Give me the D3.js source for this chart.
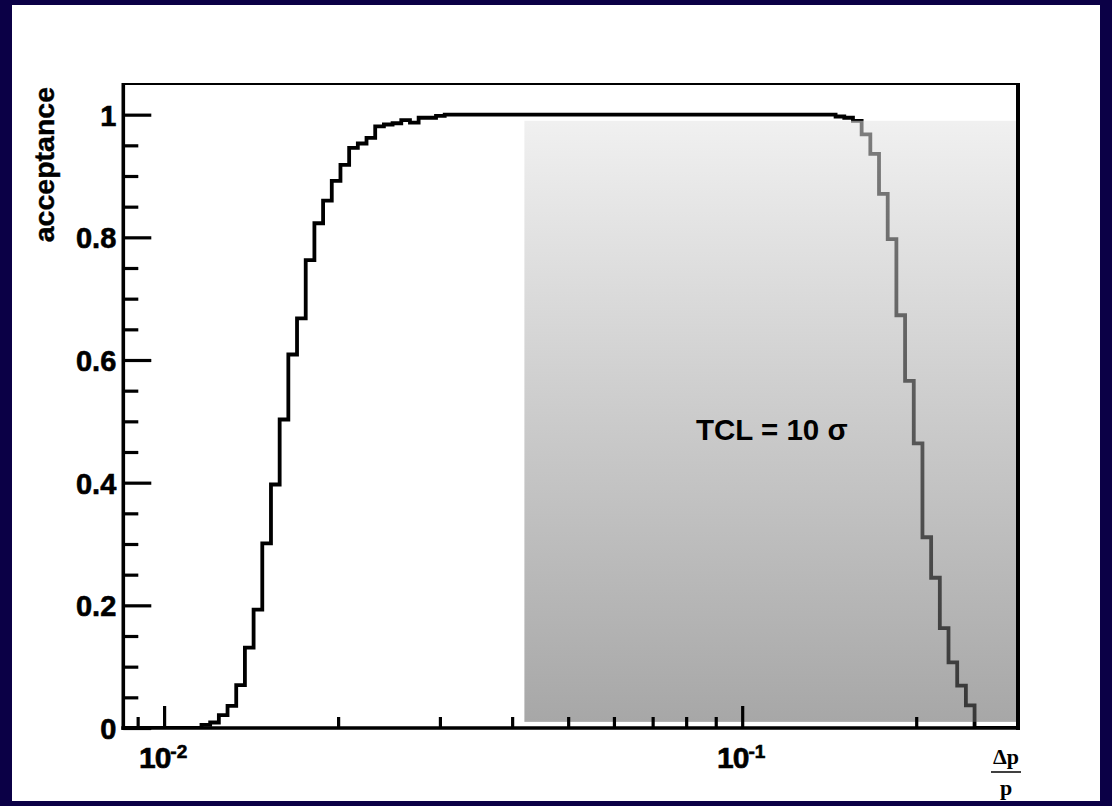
<!DOCTYPE html>
<html>
<head>
<meta charset="utf-8">
<script src="https://cdn.jsdelivr.net/npm/d3@7"></script>
<style>
  html, body { margin: 0; padding: 0; background: #0b0046; }
  svg { display: block; }
</style>
</head>
<body>
<svg id="chart" width="1112" height="806"></svg>
<script>
// ---------------- data ----------------
const xDomain = [0.0085, 0.3];          // delta p / p (log axis)
const yDomain = [0, 1.05];              // acceptance
const nBins = 103;                      // log-uniform bins over xDomain
const acceptance = [
  0, 0, 0, 0, 0, 0, 0, 0, 0,
  0.005, 0.009, 0.021, 0.036, 0.070, 0.131, 0.193, 0.301, 0.397, 0.503,
  0.609, 0.668, 0.763, 0.823, 0.860, 0.892, 0.918, 0.946, 0.953, 0.962,
  0.981, 0.984, 0.986, 0.991, 0.987, 0.995, 0.995, 0.998,
  1, 1, 1, 1, 1, 1, 1, 1, 1, 1,
  1, 1, 1, 1, 1, 1, 1, 1, 1, 1,
  1, 1, 1, 1, 1, 1, 1, 1, 1, 1,
  1, 1, 1, 1, 1, 1, 1, 1, 1, 1,
  1, 1, 1, 1, 1,
  0.997, 0.995, 0.990, 0.968, 0.936, 0.871, 0.797, 0.673, 0.566, 0.464,
  0.311, 0.245, 0.163, 0.107, 0.069, 0.037,
  0, 0, 0, 0, 0
];
const yMajorTicks = [0, 0.2, 0.4, 0.6, 0.8, 1];
const yTickLabels = ["0", "0.2", "0.4", "0.6", "0.8", "1"];
const yMinorTicks = [0.05, 0.1, 0.15, 0.25, 0.3, 0.35, 0.45, 0.5, 0.55, 0.65, 0.7, 0.75, 0.85, 0.9, 0.95];
const xMajorTicks = [0.01, 0.1];
const xTickBase = ["10", "10"];
const xTickExp = ["-2", "-1"];
const xMinorTicks = [0.009, 0.02, 0.03, 0.04, 0.05, 0.06, 0.07, 0.08, 0.09, 0.2];
const shadeX = [0.042, 0.3];
const shadeY = [0.01, 0.99];
const yTitle = "acceptance";
const annotation = "TCL = 10 σ";
const annotationPos = [0.0832, 0.47];   // data coords (x, y) of text start / baseline

// ---------------- layout ----------------
const W = 1112, H = 806;
const plot = { left: 123.3, right: 1018, top: 84, bottom: 728 };

const svg = d3.select("#chart");

// slide background + white panel
svg.append("rect").attr("width", W).attr("height", H).attr("fill", "#0b0046");
svg.append("rect").attr("x", 12).attr("y", 5).attr("width", W - 24).attr("height", H - 10).attr("fill", "#ffffff");

const x = d3.scaleLog().domain(xDomain).range([plot.left, plot.right]);
const y = d3.scaleLinear().domain(yDomain).range([plot.bottom, plot.top]);

// histogram bins (log-uniform edges)
const lx0 = Math.log10(xDomain[0]), lx1 = Math.log10(xDomain[1]);
const edges = d3.range(nBins + 1).map(k => Math.pow(10, lx0 + (lx1 - lx0) * k / nBins));
const pts = acceptance.map((v, k) => [edges[k], v]);
pts.push([edges[nBins], acceptance[nBins - 1]]);

const line = d3.line()
  .x(d => x(d[0]))
  .y(d => y(d[1]))
  .curve(d3.curveStepAfter);

svg.append("clipPath").attr("id", "plotclip")
  .append("rect").attr("x", plot.left).attr("y", plot.top)
  .attr("width", plot.right - plot.left).attr("height", plot.bottom - plot.top);

svg.append("path")
  .datum(pts)
  .attr("d", line)
  .attr("fill", "none")
  .attr("stroke", "#000")
  .attr("stroke-width", 3.8)
  .attr("stroke-linejoin", "miter")
  .attr("clip-path", "url(#plotclip)");

// shaded region (semi-transparent gradient on top of the curve)
const defs = svg.append("defs");
const grad = defs.append("linearGradient").attr("id", "shade")
  .attr("x1", 0).attr("y1", 0).attr("x2", 0).attr("y2", 1);
grad.append("stop").attr("offset", "0%").attr("stop-color", "rgb(228,228,228)").attr("stop-opacity", 0.55);
grad.append("stop").attr("offset", "50%").attr("stop-color", "rgb(160,160,160)").attr("stop-opacity", 0.55);
grad.append("stop").attr("offset", "100%").attr("stop-color", "rgb(98,98,98)").attr("stop-opacity", 0.56);

svg.append("rect")
  .attr("x", x(shadeX[0]))
  .attr("y", y(shadeY[1]))
  .attr("width", x(shadeX[1]) - x(shadeX[0]))
  .attr("height", y(shadeY[0]) - y(shadeY[1]))
  .attr("fill", "url(#shade)");

// axes
const fontSans = "'Liberation Sans', Arial, Helvetica, sans-serif";

const yAxisMajor = svg.append("g")
  .attr("transform", `translate(${plot.left},0)`)
  .call(d3.axisLeft(y).tickValues(yMajorTicks).tickSize(-28).tickPadding(7)
        .tickFormat((d, i) => yTickLabels[i]));
const yAxisMinor = svg.append("g")
  .attr("transform", `translate(${plot.left},0)`)
  .call(d3.axisLeft(y).tickValues(yMinorTicks).tickSize(-15).tickFormat(""));

const xAxisMajor = svg.append("g")
  .attr("transform", `translate(0,${plot.bottom})`)
  .call(d3.axisBottom(x).tickValues(xMajorTicks).tickSize(-22).tickFormat(""));
const xAxisMinor = svg.append("g")
  .attr("transform", `translate(0,${plot.bottom})`)
  .call(d3.axisBottom(x).tickValues(xMinorTicks).tickSize(-11).tickFormat(""));

[yAxisMajor, yAxisMinor, xAxisMajor, xAxisMinor].forEach(g => {
  g.select(".domain").remove();
  g.selectAll(".tick line").attr("stroke", "#000").attr("stroke-width", 3.2);
});
yAxisMajor.selectAll(".tick text")
  .attr("font-family", fontSans).attr("font-weight", "bold").attr("font-size", 29)
  .attr("fill", "#000").attr("stroke", "#000").attr("stroke-width", 0.6)
  .attr("dy", "0.36em");

// x tick labels 10^n
xMajorTicks.forEach((v, i) => {
  const t = svg.append("text")
    .attr("x", x(v) - 1).attr("y", 768)
    .attr("text-anchor", "middle")
    .attr("font-family", fontSans).attr("font-weight", "bold").attr("font-size", 30)
    .attr("fill", "#000").attr("stroke", "#000").attr("stroke-width", 0.6);
  t.append("tspan").attr("letter-spacing", -1).text(xTickBase[i]);
  t.append("tspan").attr("font-size", 19).attr("dy", -10).text(xTickExp[i]);
});

// frame
svg.append("line").attr("x1", plot.left).attr("x2", plot.right).attr("y1", plot.top).attr("y2", plot.top)
  .attr("stroke", "#000").attr("stroke-width", 2.2);
svg.append("line").attr("x1", plot.right).attr("x2", plot.right).attr("y1", plot.top - 1).attr("y2", plot.bottom + 2)
  .attr("stroke", "#000").attr("stroke-width", 4);
svg.append("line").attr("x1", plot.left).attr("x2", plot.left).attr("y1", plot.top - 1).attr("y2", plot.bottom + 2)
  .attr("stroke", "#000").attr("stroke-width", 3.6);
svg.append("line").attr("x1", plot.left - 2).attr("x2", plot.right + 2).attr("y1", plot.bottom).attr("y2", plot.bottom)
  .attr("stroke", "#000").attr("stroke-width", 3.6);

// y title
svg.append("text")
  .attr("transform", `translate(54,${plot.top + 3}) rotate(-90)`)
  .attr("text-anchor", "end")
  .attr("font-family", fontSans).attr("font-weight", "bold").attr("font-size", 28.5)
  .attr("fill", "#000").attr("stroke", "#000").attr("stroke-width", 0.4)
  .text(yTitle);

// x title: Δp / p
const fontSerif = "'Liberation Serif', 'Times New Roman', serif";
svg.append("text").attr("x", 1006).attr("y", 764).attr("text-anchor", "middle")
  .attr("font-family", fontSerif).attr("font-weight", "bold").attr("font-size", 22).attr("fill", "#000")
  .text("Δp");
svg.append("line").attr("x1", 991).attr("x2", 1021).attr("y1", 772).attr("y2", 772)
  .attr("stroke", "#000").attr("stroke-width", 1.5);
svg.append("text").attr("x", 1006).attr("y", 795).attr("text-anchor", "middle")
  .attr("font-family", fontSerif).attr("font-weight", "bold").attr("font-size", 22).attr("fill", "#000")
  .text("p");

// annotation
svg.append("text")
  .attr("x", x(annotationPos[0])).attr("y", y(annotationPos[1]))
  .attr("font-family", fontSans).attr("font-weight", "bold").attr("font-size", 29.5)
  .attr("fill", "#000")
  .text(annotation);
</script>
</body>
</html>
